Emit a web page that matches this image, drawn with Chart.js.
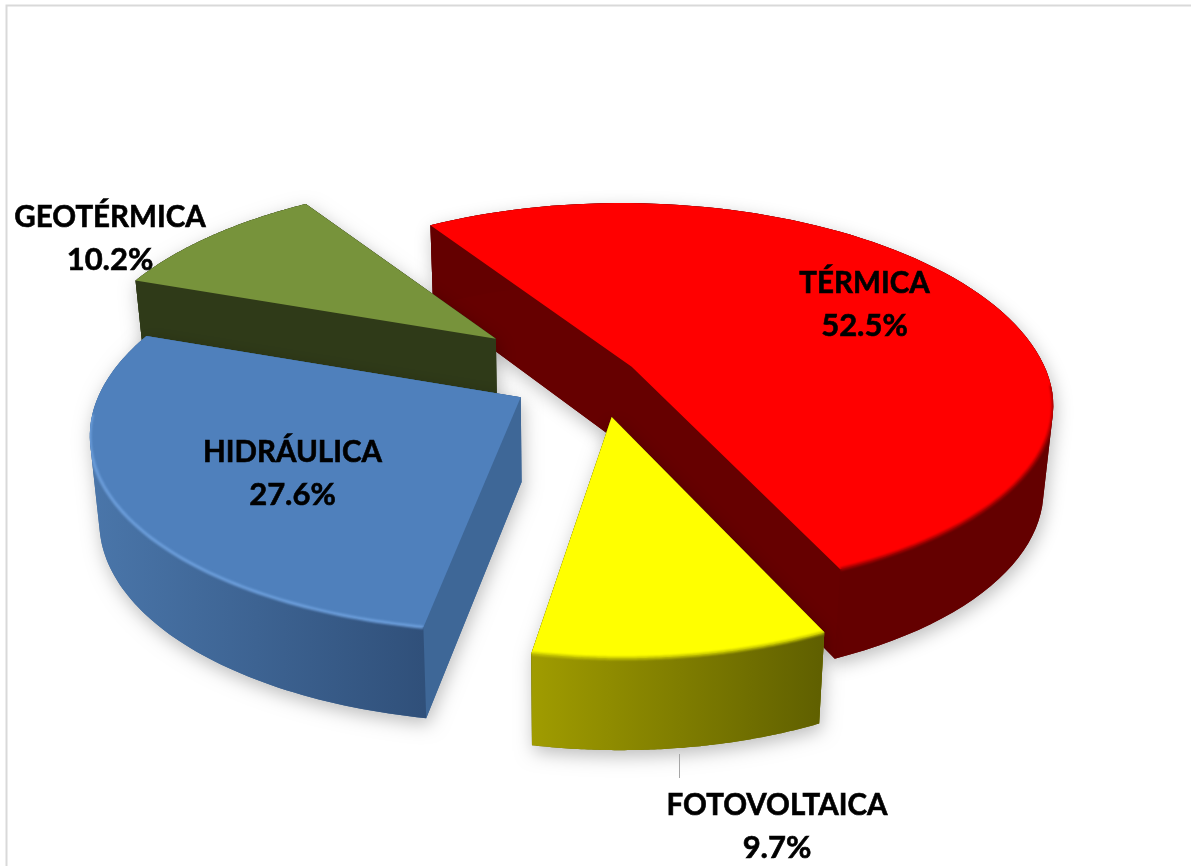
<!DOCTYPE html>
<html lang="es">
<head>
<meta charset="utf-8">
<title>Pie 3D</title>
<style>html,body{margin:0;padding:0;background:#fff}canvas{display:block}</style>
<script src="https://cdn.jsdelivr.net/npm/chart.js@4"></script>
</head>
<body>
<canvas id="c" width="1191" height="866"></canvas>
<script>
const categories = ["TÉRMICA", "FOTOVOLTAICA", "HIDRÁULICA", "GEOTÉRMICA"];
const shares = [52.5, 9.7, 27.6, 10.2];
const explode = [100, 222, 232, 345];
const sliceTurn = [1.5, 0.5, 0, 0];
const rimRx = [420, 400, 418, 427];
const rimRyFar = [422, 395, 405, 430];
const rimRyNear = [405, 395, 398, 405];
const topColors = ["#ff0000", "#ffff00", "#4f80bc", "#77933b"];
const wallColors = ["#660000", "#6b6b00", "#3e6797", "#2f3a18"];
const rimFrom = ["#640000", "#a09c00", "#4a76aa", "#2f3a18"];
const rimTo = ["#640000", "#5f5f00", "#30507a", "#2f3a18"];
const bevelColors = ["#a80000", "#c4c400", "#6d9fdc", "#5a7030"];
const labelCenters = [[864.5, 282], [777, 804], [292.5, 451], [110, 216]];
const lineGap = 43;
const drawOrder = [0, 3, 2, 1];

const view = { cx: 565, cy: 385, q: 0.474, F: 2290, R: 405, gx: 34, gy: -20 };
const project = (gx, gy) => {
  const s = 1 / (1 - gy / view.F);
  return { x: view.cx + gx * s, y: view.cy + gy * view.q * s, s };
};
const drop = p => ({
  x: view.cx + (p.x - view.cx) * 0.98,
  y: p.y + 80 + (p.s - 0.855) * 30
});
const addPoly = (ctx, pts) => {
  let area = 0;
  pts.forEach((p, i) => { const n = pts[(i + 1) % pts.length]; area += p.x * n.y - n.x * p.y; });
  const list = area < 0 ? pts.slice().reverse() : pts;
  ctx.moveTo(list[0].x, list[0].y);
  list.slice(1).forEach(p => ctx.lineTo(p.x, p.y));
  ctx.closePath();
};
const fillPolys = (ctx, polys, style) => {
  ctx.beginPath(); polys.forEach(poly => addPoly(ctx, poly)); ctx.fillStyle = style; ctx.fill();
};

const pie3d = {
  id: "pie3d",
  beforeDraw(chart) {
    const ctx = chart.ctx;
    ctx.save();
    ctx.strokeStyle = "#d9d9d9"; ctx.lineWidth = 2;
    ctx.beginPath(); ctx.moveTo(6.5, 866); ctx.lineTo(6.5, 5.5); ctx.lineTo(1191, 5.5); ctx.stroke();
    ctx.restore();
  },
  beforeDatasetsDraw(chart) {
    const ctx = chart.ctx;
    const arcs = chart.getDatasetMeta(0).data;
    drawOrder.forEach(i => {
      const el = arcs[i];
      const scale = view.R / el.outerRadius;
      const turn = sliceTurn[i] * Math.PI / 180;
      const mid = (el.startAngle + el.endAngle) / 2;
      const off = el.options.offset / 4 * scale;
      const ox = view.gx + Math.cos(mid) * off;
      const oy = view.gy + Math.sin(mid) * off;
      const rim = [], front = [];
      const steps = 90;
      for (let k = 0; k <= steps; k++) {
        const a = el.startAngle + turn + (el.endAngle - el.startAngle) * k / steps;
        const ry = Math.sin(a) > 0 ? rimRyNear[i] : rimRyFar[i];
        const p = project(ox + Math.cos(a) * rimRx[i], oy + Math.sin(a) * ry);
        rim.push(p);
        if (Math.sin(a) > 0.08) front.push(p);
      }
      const apex = project(ox, oy);
      const rimLow = rim.map(drop);
      const apexLow = drop(apex);
      const top = [apex, ...rim];
      const wallA = [apex, rim[0], rimLow[0], apexLow];
      const wallB = [apex, rim[steps], rimLow[steps], apexLow];
      const strips = [];
      for (let k = 0; k < steps; k++) strips.push([rim[k], rim[k + 1], rimLow[k + 1], rimLow[k]]);

      ctx.save();
      ctx.shadowColor = "rgba(0,0,0,0.26)";
      ctx.shadowBlur = 18;
      ctx.shadowOffsetX = 2;
      ctx.shadowOffsetY = 6;
      fillPolys(ctx, [top, wallA, wallB, ...strips], wallColors[i]);
      ctx.restore();

      const xs = front.length ? front.map(p => p.x) : rim.map(p => p.x);
      const grad = ctx.createLinearGradient(Math.min(...xs), 0, Math.max(...xs), 0);
      grad.addColorStop(0, rimFrom[i]);
      grad.addColorStop(1, rimTo[i]);
      fillPolys(ctx, [wallA, wallB], wallColors[i]);
      fillPolys(ctx, strips, grad);
      fillPolys(ctx, [top], topColors[i]);

      if (front.length > 1) {
        ctx.save();
        ctx.beginPath();
        [top, ...strips].forEach(poly => addPoly(ctx, poly));
        ctx.clip();
        ctx.filter = "blur(1px)";
        ctx.strokeStyle = bevelColors[i];
        ctx.lineWidth = 3;
        ctx.beginPath();
        front.forEach((p, k) => k ? ctx.lineTo(p.x, p.y) : ctx.moveTo(p.x, p.y));
        ctx.stroke();
        ctx.restore();
      }
    });

    ctx.save();
    ctx.strokeStyle = "#a6a6a6"; ctx.lineWidth = 1;
    ctx.beginPath(); ctx.moveTo(679.5, 754); ctx.lineTo(679.5, 778); ctx.stroke();
    ctx.fillStyle = "#000";
    ctx.strokeStyle = "#000";
    ctx.lineWidth = 0.6;
    ctx.textAlign = "center";
    ctx.textBaseline = "alphabetic";
    categories.forEach((name, i) => {
      const [x, y] = labelCenters[i];
      const pct = shares[i].toFixed(1) + "%";
      ctx.font = "bold 29.5px Lato";
      ctx.fillText(name, x, y + 11);
      ctx.strokeText(name, x, y + 11);
      ctx.font = "bold 31px Lato";
      ctx.fillText(pct, x, y + 11 + lineGap);
      ctx.strokeText(pct, x, y + 11 + lineGap);
    });
    ctx.restore();
    return false;
  }
};

new Chart(document.getElementById("c"), {
  type: "pie",
  data: {
    labels: categories,
    datasets: [{
      data: shares,
      backgroundColor: topColors,
      offset: explode,
      borderWidth: 0
    }]
  },
  options: {
    responsive: false,
    animation: false,
    rotation: -34,
    layout: { padding: 0 },
    plugins: { legend: { display: false }, tooltip: { enabled: false } }
  },
  plugins: [pie3d]
});
</script>
</body>
</html>
